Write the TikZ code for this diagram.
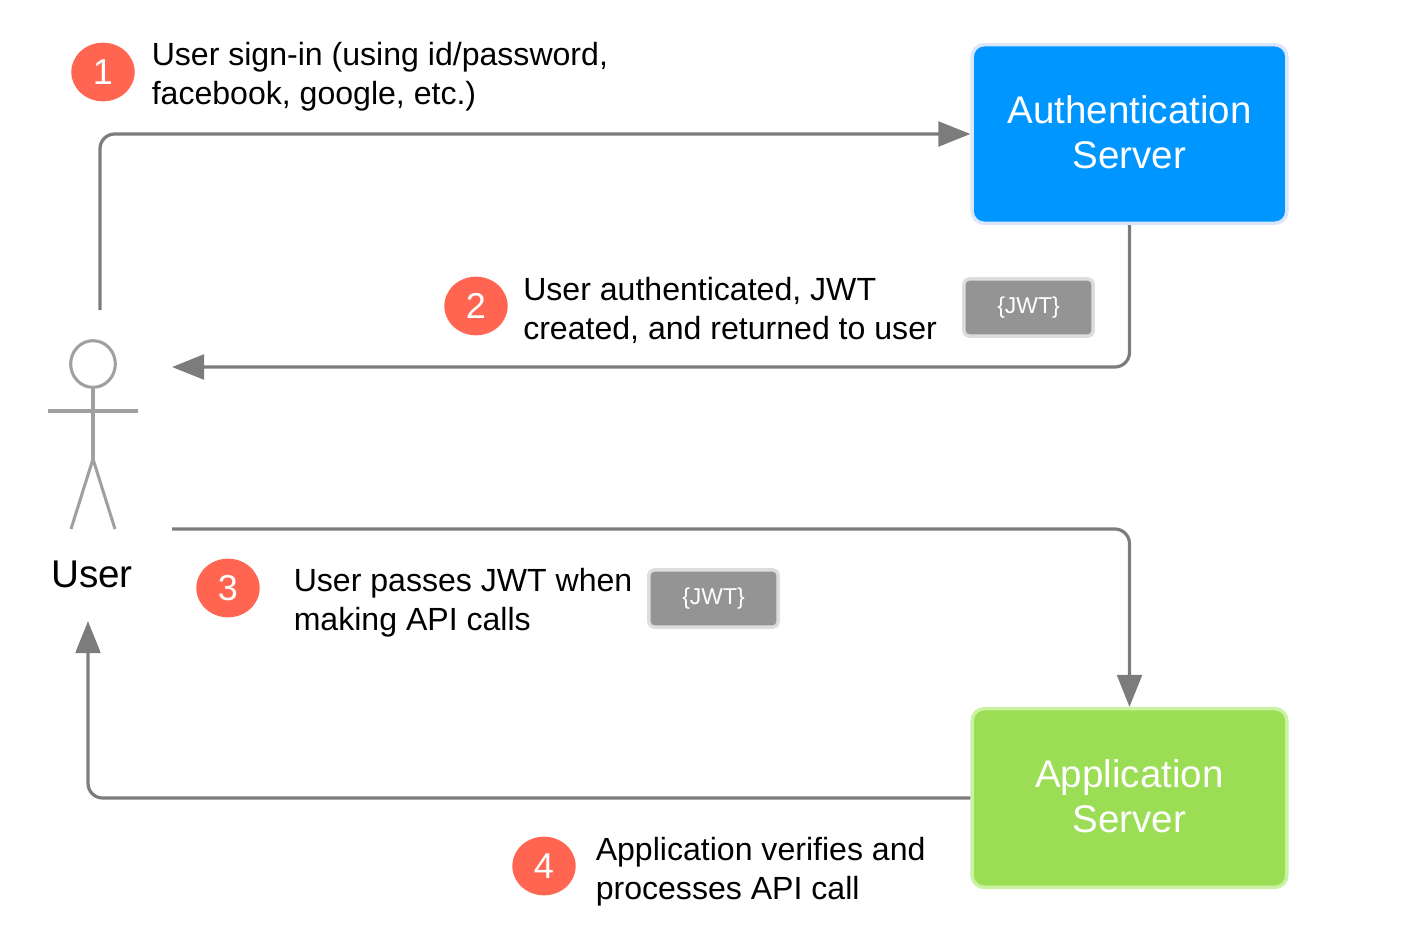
\documentclass[tikz,border=0pt]{standalone}
\usepackage{fontspec}
\setmainfont{Liberation Sans}
\usetikzlibrary{arrows.meta,shapes.geometric}
\definecolor{authblue}{HTML}{0096FF}
\definecolor{authedge}{HTML}{DCE6FB}
\definecolor{appgreen}{HTML}{9BDD55}
\definecolor{appedge}{HTML}{C9F2A2}
\definecolor{tokengray}{HTML}{949494}
\definecolor{tokenedge}{HTML}{DDDDDD}
\definecolor{badgered}{HTML}{FF6550}
\definecolor{linegray}{HTML}{7C7C7C}
\definecolor{actorgray}{HTML}{A0A0A0}
\tikzset{
  server/.style={rounded corners=9pt,line width=2.6pt,minimum width=236pt,minimum height=134pt,inner sep=0pt,text=white,align=center,text depth=3pt,font=\fontsize{28.9pt}{33.5pt}\selectfont},
  token/.style={draw=tokenedge,fill=tokengray,rounded corners=4pt,line width=2.6pt,minimum width=97pt,minimum height=43pt,inner sep=0pt,text=white,font=\fontsize{17.2pt}{20pt}\selectfont},
  badge/.style={ellipse,fill=badgered,minimum width=47.5pt,minimum height=44pt,inner sep=0pt,text=white,font=\fontsize{27pt}{30pt}\selectfont},
  caption/.style={anchor=west,align=left,inner sep=0pt,font=\fontsize{24.05pt}{29.2pt}\selectfont},
  conn/.style={draw=linegray,line width=2.4pt,rounded corners=11pt,-{Triangle[length=24pt,width=18.5pt]}},
  stick/.style={draw=actorgray,line width=2.3pt},
}
\begin{document}
\begin{tikzpicture}[x=0.75pt,y=-0.75pt]
\useasboundingbox (0,0) rectangle (1417,929);
% servers
\node[server,draw=authedge,fill=authblue] (auth) at (1129.5,134) {Authentication\\Server};
\node[server,draw=appedge,fill=appgreen] (app) at (1129.5,798) {Application\\Server};
% tokens
\node[token] (jwtA) at (1028.5,307.5) {\{JWT\}};
\node[token] (jwtB) at (713.5,598.5) {\{JWT\}};
% badges
\node[badge] (b1) at (103,72) {1};
\node[badge] (b2) at (476,306) {2};
\node[badge] (b3) at (228,588) {3};
\node[badge] (b4) at (544,866) {4};
% captions
\node[caption] (t1) at (151.5,76.5) {User sign-in (using id/password,\\facebook, google, etc.)};
\node[caption] (t2) at (523,310.5) {User authenticated, JWT\\created, and returned to user};
\node[caption] (t3) at (293.5,602.5) {User passes JWT when\\making API calls};
\node[caption] (t4) at (595.5,871.5) {Application verifies and\\processes API call};
% actor
\node[ellipse,stick,minimum width=33.5pt,minimum height=35pt,inner sep=0pt] (head) at (93,364) {};
\coordinate (hip) at (93,459);
\coordinate (armL) at (48,411);
\coordinate (armR) at (138,411);
\coordinate (footL) at (71,529);
\coordinate (footR) at (115,529);
\draw[stick] (head.south) -- (hip);
\draw[stick] (armL) -- (armR);
\draw[stick] (footL) -- (hip) -- (footR);
\node[font=\fontsize{29pt}{34pt}\selectfont] (user) at (92,574) {User};
% connector free ends
\coordinate (userOut) at (100,310);
\coordinate (userIn) at (172,367);
\coordinate (userCall) at (172,529);
\coordinate (userBack) at (88,621);
% connectors
\draw[conn] (userOut) |- (auth.west);
\draw[conn] (auth.south) |- (userIn);
\draw[conn] (userCall) -| (app.north);
\draw[conn] (app.west) -| (userBack);
\end{tikzpicture}
\end{document}
